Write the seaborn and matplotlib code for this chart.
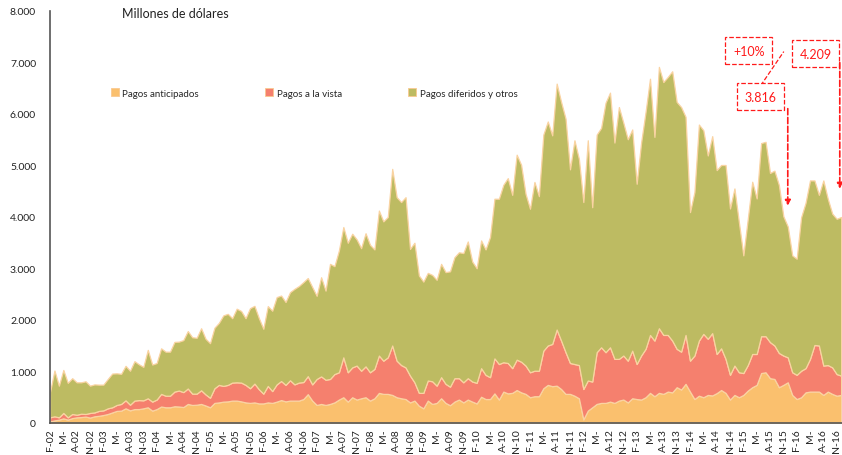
import numpy as np
import matplotlib
matplotlib.use("Agg")
import matplotlib.pyplot as plt
import seaborn as sns
from matplotlib.patches import Patch
from matplotlib.ticker import FuncFormatter

# Monthly values (millones de dólares), Feb-2002 .. Dec-2016
anticipados = [
    30, 50, 65, 90, 65, 95, 110, 115, 125, 105, 130, 140, 155, 175, 205, 235, 240, 285, 245, 270,
    270, 285, 305, 240, 270, 320, 305, 305, 325, 320, 310, 370, 350, 355, 370, 340, 305, 390, 400, 415,
    420, 435, 435, 420, 400, 390, 400, 380, 380, 400, 390, 415, 445, 420, 435, 435, 435, 465, 560, 435,
    350, 370, 350, 370, 400, 455, 500, 415, 500, 455, 480, 500, 435, 480, 585, 565, 565, 545, 500, 480,
    465, 400, 435, 335, 285, 435, 370, 390, 480, 390, 345, 415, 455, 400, 455, 415, 380, 510, 465, 465,
    575, 455, 610, 575, 585, 640, 595, 565, 500, 520, 520, 675, 740, 715, 725, 660, 565, 565, 530, 480,
    70, 240, 305, 370, 390, 390, 415, 390, 435, 455, 400, 480, 465, 455, 500, 585, 520, 585, 565, 610,
    595, 695, 650, 760, 610, 465, 530, 500, 545, 535, 580, 640, 585, 455, 545, 500, 545, 630, 695, 740,
    970, 985, 870, 855, 695, 740, 790, 545, 465, 500, 595, 610, 610, 610, 545, 610, 565, 530, 545,
]
a_la_vista = [
    80, 80, 45, 105, 45, 80, 50, 65, 50, 90, 75, 95, 90, 110, 100, 115, 130, 155, 110, 165,
    175, 155, 175, 175, 185, 245, 225, 225, 285, 310, 290, 300, 220, 215, 265, 215, 185, 285, 340, 305,
    320, 350, 355, 365, 340, 285, 365, 275, 190, 320, 230, 335, 370, 320, 395, 315, 350, 330, 350, 315,
    505, 535, 490, 485, 550, 530, 775, 570, 580, 660, 535, 600, 550, 570, 725, 645, 710, 960, 710, 645,
    615, 520, 355, 250, 300, 390, 440, 335, 410, 370, 360, 455, 415, 390, 415, 390, 400, 555, 470, 425,
    680, 690, 570, 590, 480, 590, 595, 550, 485, 495, 495, 730, 765, 820, 1090, 940, 810, 600, 615, 645,
    590, 585, 500, 1005, 1080, 985, 1055, 855, 810, 855, 810, 925, 680, 855, 940, 1125, 1080, 1255, 1145, 1100,
    1005, 745, 735, 950, 600, 845, 1070, 1230, 1090, 1210, 760, 810, 660, 480, 570, 485, 425, 495, 645, 600,
    715, 700, 700, 650, 665, 570, 485, 440, 470, 515, 470, 635, 905, 895, 570, 515, 515, 420, 375,
]
diferidos = [
    490, 890, 615, 835, 670, 695, 630, 610, 635, 530, 545, 510, 500, 570, 655, 615, 585, 670, 660, 765,
    695, 650, 940, 720, 710, 885, 855, 855, 965, 950, 1010, 1115, 1095, 1085, 1205, 1080, 1060, 1175, 1205, 1370,
    1380, 1250, 1430, 1390, 1295, 1555, 1510, 1380, 1260, 1550, 1560, 1695, 1660, 1610, 1710, 1855, 1875, 1940, 1905, 1890,
    1615, 1925, 1730, 2235, 2095, 2365, 2530, 2515, 2595, 2450, 2380, 2585, 2475, 2320, 2815, 2705, 2725, 3430, 3175, 3165,
    3305, 2460, 2710, 2280, 2160, 2090, 2065, 2055, 2200, 2170, 2240, 2350, 2445, 2510, 2655, 2330, 2225, 2480, 2435, 2720,
    3100, 3210, 3445, 3590, 3365, 3980, 3825, 3335, 3175, 3665, 3390, 4195, 4350, 4050, 4775, 4635, 4535, 3760, 4345, 4005,
    3630, 4665, 3385, 4225, 4260, 4845, 4945, 4200, 4890, 4520, 4300, 4295, 3500, 4135, 4600, 4975, 3955, 5075, 4910, 5010,
    5230, 4795, 4750, 4235, 2885, 3175, 4195, 3955, 3560, 3825, 3570, 3560, 3765, 3230, 3440, 2915, 2285, 2840, 3345, 3020,
    3750, 3775, 3285, 3395, 3260, 2705, 2540, 2270, 2255, 2980, 3210, 3465, 3195, 2925, 3595, 3230, 2985, 3015, 3080,
]

series_names = ["Pagos anticipados", "Pagos a la vista", "Pagos diferidos y otros"]
colors = ["#FAC06E", "#F5806E", "#BDBB62"]

meses_eje = ["F", "M", "A", "N"]
anios = [str(y)[2:] for y in range(2002, 2017)]

sns.set_theme(style="white")
plt.rcParams["font.family"] = ["Lato", "DejaVu Sans"]

x = np.arange(len(anticipados))

fig = plt.figure(figsize=(8.42, 4.56), dpi=100)
ax = fig.add_axes([50 / 842, 32 / 456, 792 / 842, 412 / 456])

ax.stackplot(x, anticipados, a_la_vista, diferidos, colors=colors,
             edgecolor="#FAD3A2", linewidth=0.9)

ax.set_xlim(0, len(x) - 0.8)
ax.set_ylim(0, 8000)

# x ticks: labels every 3 months, tick marks every year
labels = []
for a in anios:
    for m in meses_eje:
        labels.append(m + "-" if m == "M" else m + "-" + a)
ax.set_xticks(x[::3])
ax.set_xticklabels(labels[:len(x[::3])], rotation=90, fontsize=7.5, color="#222222")
ax.set_xticks(x[::12], minor=True)
ax.tick_params(axis="x", which="major", length=0, pad=4)
ax.tick_params(axis="x", which="minor", length=4, direction="in", width=1, color="#333333")

ax.set_yticks(range(0, 8001, 1000))
ax.yaxis.set_major_formatter(FuncFormatter(lambda v, p: f"{int(v):,}".replace(",", ".")))
ax.tick_params(axis="y", length=4, direction="in", labelsize=7.5, pad=10, colors="#222222")

sns.despine(ax=ax)
for s in ["left", "bottom"]:
    ax.spines[s].set_color("#555555")
    ax.spines[s].set_linewidth(1.2)

ax.set_ylabel("")
ax.set_xlabel("")
fig.text(122 / 842, 1 - 14 / 456, "Millones de dólares", fontsize=9, va="center", color="#222222")

handles = [Patch(facecolor=c, edgecolor="#FAC990", linewidth=0.6) for c in colors]
ax.legend(handles, series_names, ncol=3, frameon=False, fontsize=7,
          loc="center left", bbox_to_anchor=(52 / 792, (424 - 94) / 412),
          handlelength=0.8, handleheight=0.8, handletextpad=0.4, columnspacing=6.8)

# annotations
red = "#FF1A1A"
box = dict(boxstyle="square,pad=0.6", fc="white", ec=red, ls="--", lw=0.9)
ax.text(157.2, 7232, "+10%", color=red, fontsize=9, ha="center", va="center", bbox=box)
ax.text(159.9, 6337, "3.816", color=red, fontsize=9, ha="center", va="center", bbox=box)
ax.text(172.3, 7173, "4.209", color=red, fontsize=9, ha="center", va="center", bbox=box)
arrow = dict(arrowstyle="-|>", ls="--", color=red, lw=1.2, mutation_scale=8, shrinkA=0, shrinkB=0)
ax.annotate("", xy=(166.0, 4218), xytext=(166.0, 6104), arrowprops=arrow)
ax.annotate("", xy=(177.7, 4549), xytext=(177.7, 6998), arrowprops=arrow)
ax.plot([159.9, 165.1], [6551, 7212], ls="--", color=red, lw=0.9)

fig.savefig("out.png", dpi=100)
